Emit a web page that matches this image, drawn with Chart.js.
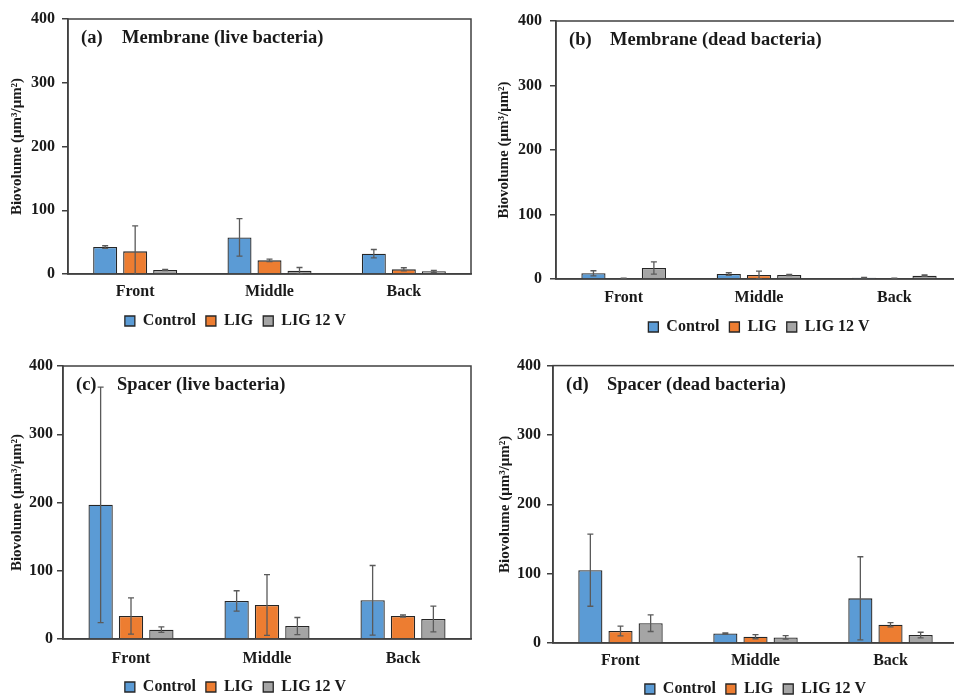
<!DOCTYPE html>
<html lang="en">
<head>
  <meta charset="UTF-8">
  <title>Biovolume</title>
  <style>
    body {
      margin: 0;
      background: #fff;
      overflow: hidden;
    }
    #wrap {
      position: relative;
      width: 954px;
      height: 696px;
      overflow: hidden;
    }
    canvas {
      position: absolute;
    }
  </style>
</head>
<body>
  <div id="wrap">
    <canvas id="chartA" width="480" height="345" style="left:0;top:0"></canvas>
    <canvas id="chartB" width="490" height="345" style="left:480px;top:0"></canvas>
    <canvas id="chartC" width="480" height="362" style="left:0;top:350px"></canvas>
    <canvas id="chartD" width="490" height="362" style="left:480px;top:350px"></canvas>
  </div>

  <script src="https://cdn.jsdelivr.net/npm/chart.js"></script>
  <script>
    const categories = ['Front', 'Middle', 'Back'];
    const seriesNames = ['Control', 'LIG', 'LIG 12 V'];
    const seriesColors = ['#5B9BD5', '#ED7D31', '#A5A5A5'];
    const yTicks = [0, 100, 200, 300, 400];

    // (a) membrane, live bacteria: Control / LIG / LIG 12 V
    const memLiveMean = [[42.3, 57.4, 31.9], [35.5, 21.4, 7.3], [6.3, 5.2, 4.2]];
    const memLiveErr  = [[2, 29.5, 6.5], [40, 2, 2.5], [0.8, 5, 1.5]];
    // (b) membrane, dead bacteria
    const memDeadMean = [[8.8, 7.7, 2], [1, 6.2, 1], [17, 6.2, 5.2]];
    const memDeadErr  = [[4, 2, 0.5], [0.3, 6, 0.4], [9.5, 1, 1]];
    // (c) spacer, live bacteria
    const spcLiveMean = [[196.6, 55.7, 56.7], [33.7, 49.9, 33.7], [13.7, 19, 29.3]];
    const spcLiveErr  = [[172.5, 15, 51], [26.5, 44.5, 1.5], [4, 12.5, 19]];
    // (d) spacer, dead bacteria
    const spcDeadMean = [[105, 13.8, 64.4], [17.2, 9.1, 26.3], [28.6, 8.1, 11.5]];
    const spcDeadErr  = [[52, 0.8, 60], [7, 3, 3], [12, 2.5, 4]];

    const serif = "'Liberation Serif', 'Times New Roman', serif";
    const ink = '#1a1a1a';
    const axisColor = '#404040';

    // box round the plot area (top and right sides)
    const frame = {
      id: 'frame',
      beforeDatasetsDraw(chart) {
        const a = chart.chartArea;
        const ctx = chart.ctx;
        ctx.save();
        ctx.strokeStyle = axisColor;
        ctx.lineWidth = 1.5;
        ctx.strokeRect(a.left, a.top, a.right - a.left, a.bottom - a.top);
        ctx.restore();
      }
    };

    const errorBars = {
      id: 'errorBars',
      afterDatasetsDraw(chart) {
        const ctx = chart.ctx;
        const y = chart.scales.y;
        ctx.save();
        ctx.strokeStyle = '#5a5a5a';
        ctx.lineWidth = 1.3;
        chart.data.datasets.forEach((ds, i) => {
          chart.getDatasetMeta(i).data.forEach((bar, j) => {
            const v = ds.data[j], e = ds.errs[j];
            const lo = Math.max(v - e, 0);
            const yTop = y.getPixelForValue(v + e);
            const yLow = y.getPixelForValue(lo);
            ctx.beginPath();
            ctx.moveTo(bar.x, yTop);
            ctx.lineTo(bar.x, yLow);
            ctx.moveTo(bar.x - 3, yTop);
            ctx.lineTo(bar.x + 3, yTop);
            if (lo > 0) {
              ctx.moveTo(bar.x - 3, yLow);
              ctx.lineTo(bar.x + 3, yLow);
            }
            ctx.stroke();
          });
        });
        ctx.restore();
      }
    };

    const panelTitle = {
      id: 'panelTitle',
      afterDraw(chart, args, opts) {
        const a = chart.chartArea;
        const ctx = chart.ctx;
        ctx.save();
        ctx.font = 'bold 18.5px ' + serif;
        ctx.fillStyle = ink;
        ctx.textBaseline = 'alphabetic';
        ctx.fillText(opts.tag, a.left + 13, a.top + 24);
        ctx.fillText(opts.text, a.left + 54, a.top + 24);
        ctx.restore();
      }
    };

    function makePanel(id, tag, text, means, errs, o) {
      const font = { family: serif, size: 16, weight: 'bold' };
      new Chart(document.getElementById(id), {
        type: 'bar',
        data: {
          labels: categories,
          datasets: seriesNames.map((name, i) => ({
            label: name,
            data: means[i],
            errs: errs[i],
            backgroundColor: seriesColors[i],
            borderColor: '#262626',
            borderWidth: 1.3,
            categoryPercentage: 0.67,
            barPercentage: 0.8
          }))
        },
        options: {
          responsive: false,
          animation: false,
          layout: { padding: { left: 0, right: o.padR, top: o.padT, bottom: o.padB } },
          plugins: {
            legend: {
              position: 'bottom',
              fullSize: o.fullLegend,
              labels: { boxWidth: 10, boxHeight: 10, padding: 10, color: ink, font: font }
            },
            tooltip: { enabled: false },
            panelTitle: { tag: tag, text: text }
          },
          scales: {
            x: {
              grid: { display: false, drawTicks: false },
              border: { color: axisColor, width: 1.5 },
              ticks: { padding: o.xPad, color: ink, font: font },
              afterFit(s) { s.height = o.xH; }
            },
            y: {
              min: 0,
              max: 400,
              afterBuildTicks(s) { s.ticks = yTicks.map(v => ({ value: v })); },
              ticks: { padding: o.tickPad, color: ink, font: font },
              grid: { drawOnChartArea: false, drawTicks: true, tickLength: 6, color: axisColor, lineWidth: 1.5 },
              border: { color: axisColor, width: 1.5 },
              title: {
                display: true,
                text: 'Biovolume (μm³/μm²)',
                color: ink,
                font: { family: serif, size: 15, weight: 'bold' },
                padding: { top: o.titlePad, bottom: 0 }
              },
              afterFit(s) { s.width = o.yW; }
            }
          }
        },
        plugins: [frame, errorBars, panelTitle]
      });
    }

    makePanel('chartA', '(a)', 'Membrane (live bacteria)', memLiveMean, memLiveErr,
      { padT: 19, padR: 9, padB: 6, yW: 68, xH: 29, xPad: 8, tickPad: 7, titlePad: 8, fullLegend: true });
    makePanel('chartB', '(b)', 'Membrane (dead bacteria)', memDeadMean, memDeadErr,
      { padT: 21, padR: 8, padB: 0, yW: 76, xH: 30, xPad: 9, tickPad: 8, titlePad: 15, fullLegend: false });
    makePanel('chartC', '(c)', 'Spacer (live bacteria)', spcLiveMean, spcLiveErr,
      { padT: 16, padR: 9, padB: 7, yW: 63, xH: 30, xPad: 10, tickPad: 4, titlePad: 8, fullLegend: true });
    makePanel('chartD', '(d)', 'Spacer (dead bacteria)', spcDeadMean, spcDeadErr,
      { padT: 14, padR: 12, padB: 5, yW: 73, xH: 28, xPad: 8, tickPad: 6, titlePad: 16, fullLegend: false });
  </script>
</body>
</html>
